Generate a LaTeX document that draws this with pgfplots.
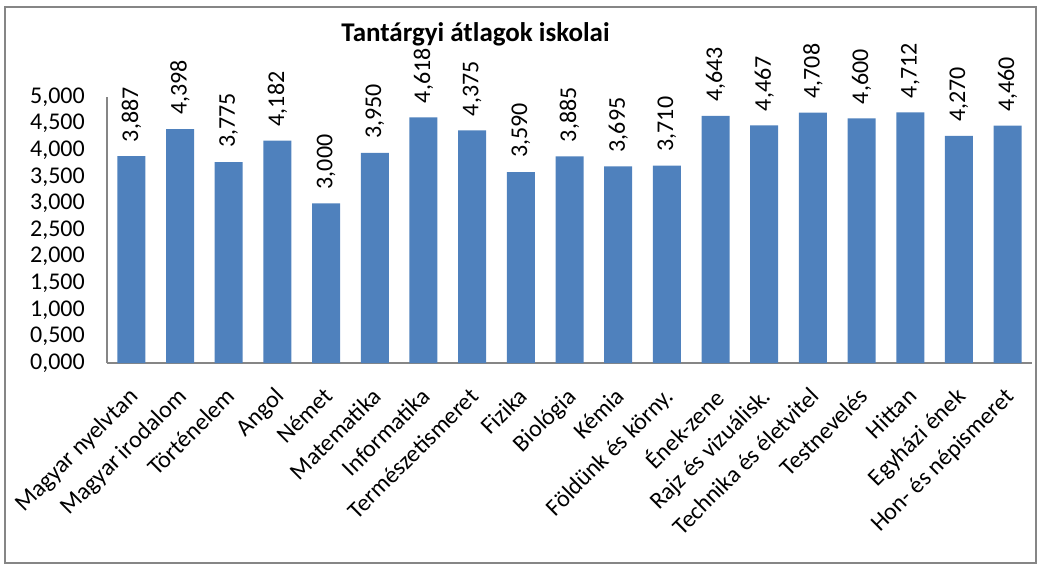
\documentclass[border=0pt]{standalone}
\usepackage{pgfplots}
\pgfplotsset{compat=1.18}
\usepackage{fontspec}
\setmainfont{Carlito}
\definecolor{barblue}{HTML}{4F81BD}
\definecolor{axisgray}{HTML}{868686}
\begin{document}
\begin{tikzpicture}
\useasboundingbox (0,0) rectangle (1037pt,-564pt);
\draw[axisgray, line width=1.2pt] (5pt,-7pt) rectangle (1036pt,-563pt);
\node[anchor=base, inner sep=0pt, font=\fontsize{27}{32}\selectfont\bfseries] at (475.5pt,-42pt) {Tantárgyi átlagok iskolai};
\begin{axis}[
  at={(107pt,-363pt)}, anchor=south west,
  scale only axis, width=925pt, height=266pt,
  ymin=0, ymax=5,
  ytick={0,0.5,1,1.5,2,2.5,3,3.5,4,4.5,5},
  xmin=-0.5, xmax=18.5,
  xtick={0,...,18},
  xticklabels={Magyar nyelvtan, Magyar irodalom, Történelem, Angol, Német, Matematika, Informatika, Természetismeret, Fizika, Biológia, Kémia, Földünk és körny., Ének-zene, Rajz és vizuálisk., Technika és életvitel, Testnevelés, Hittan, Egyházi ének, Hon- és népismeret},
  axis lines*=left,
  axis line style={-, axisgray, line width=1.2pt},
  major tick length=0pt,
  /pgf/number format/.cd, fixed, fixed zerofill, precision=3, use comma, 1000 sep={}, assume math mode=true,
  /pgfplots/.cd,
  tick label style={font=\fontsize{24}{28}\selectfont, text=black},
  yticklabel style={xshift=-22pt, anchor=east, inner sep=0pt},
  xticklabel style={xshift=-4pt, yshift=-23pt, rotate=45, anchor=north east, inner sep=0pt},
  ybar, bar width=28pt,
  nodes near coords,
  nodes near coords style={font=\fontsize{24}{28}\selectfont, text=black, rotate=90, anchor=west, inner xsep=14pt, inner ysep=0pt},
  clip=false,
]
\addplot[fill=barblue, draw=none] coordinates {
(0,3.887) (1,4.398) (2,3.775) (3,4.182) (4,3.000) (5,3.950) (6,4.618) (7,4.375) (8,3.590) (9,3.885)
(10,3.695) (11,3.710) (12,4.643) (13,4.467) (14,4.708) (15,4.600) (16,4.712) (17,4.270) (18,4.460)};
\end{axis}
\end{tikzpicture}
\end{document}
